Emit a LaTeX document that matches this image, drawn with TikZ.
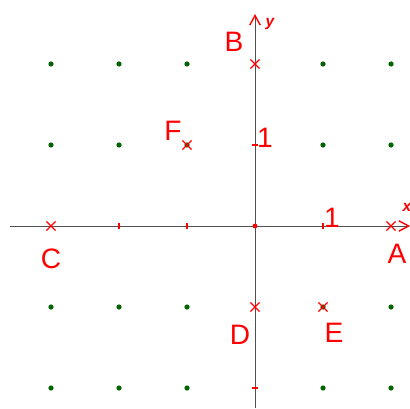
\documentclass[tikz,border=0pt]{standalone}
\usepackage{fontspec}
\setmainfont{Liberation Sans}
\usepackage{xcolor}
\usetikzlibrary{arrows.meta, positioning, shapes.misc}

\definecolor{axisgray}{RGB}{80,80,80}
\definecolor{dotgreen}{RGB}{0,100,0}

\begin{document}
\begin{tikzpicture}[x=1.7cm, y=2.025cm, node distance=0mm, on grid,
  pt/.style={draw=red, cross out, minimum size=0.2cm, inner sep=0pt, line width=0.8pt},
  lbl/.style={text=red, font=\fontsize{20}{24}\selectfont, inner sep=0pt},
  axlbl/.style={text=red, font=\fontsize{11}{13}\selectfont\bfseries\itshape, inner sep=0pt},
  tick/.style={red, line width=0.8pt},
  tip/.style={-{Straight Barb[color=red, length=2.4mm, width=2.6mm, line width=1pt]}},
]
  \useasboundingbox (-3.75,-2.247) rectangle (2.279,2.790);

  % grid of dots
  \foreach \x in {-3,-2,-1,1,2}
    \foreach \y in {-2,-1,1,2}
      \fill[dotgreen] (\x,\y) circle (0.065cm);

  % axes
  \coordinate (xmin) at (-3.6,0);
  \coordinate (xmax) at (2.279,0);
  \coordinate (ymin) at (0,-2.247);
  \coordinate (ymax) at (0,2.617);
  \draw[axisgray, line width=0.7pt, tip] (xmin) -- (xmax);
  \draw[axisgray, line width=0.7pt, tip] (ymin) -- (ymax);
  \node[axlbl] (xl) at (2.235,0.235) {x};
  \node[axlbl] (yl) at (0.22,2.49) {y};

  % ticks
  \foreach \x in {-2,-1,1}
    \draw[tick] (\x,0) ++(0,-0.075cm) -- ++(0,0.15cm);
  \foreach \y in {1,-2}
    \draw[tick] (0,\y) ++(-0.075cm,0) -- ++(0.15cm,0);
  \node[lbl] (one x) at (1.13,0.10) {1};
  \node[lbl] (one y) at (0.147,1.09) {1};

  % origin
  \fill[red] (0,0) circle (0.06cm);
  \coordinate (O) at (0,0);

  % points
  \node[pt] (A) at (2,0)   {};
  \node[pt] (B) at (0,2)   {};
  \node[pt] (C) at (-3,0)  {};
  \node[pt] (D) at (0,-1)  {};
  \node[pt] (E) at (1,-1)  {};
  \node[pt] (F) at (-1,1)  {};

  \node[lbl, below right=0.7cm and 0.15cm of A]   (la) {A};
  \node[lbl, above left=0.55cm and 0.525cm of B]  (lb) {B};
  \node[lbl, below=0.825cm of C]                  (lc) {C};
  \node[lbl, below left=0.7cm and 0.375cm of D]   (ld) {D};
  \node[lbl, below right=0.65cm and 0.275cm of E] (le) {E};
  \node[lbl, above left=0.35cm and 0.35cm of F]   (lf) {F};
\end{tikzpicture}
\end{document}
